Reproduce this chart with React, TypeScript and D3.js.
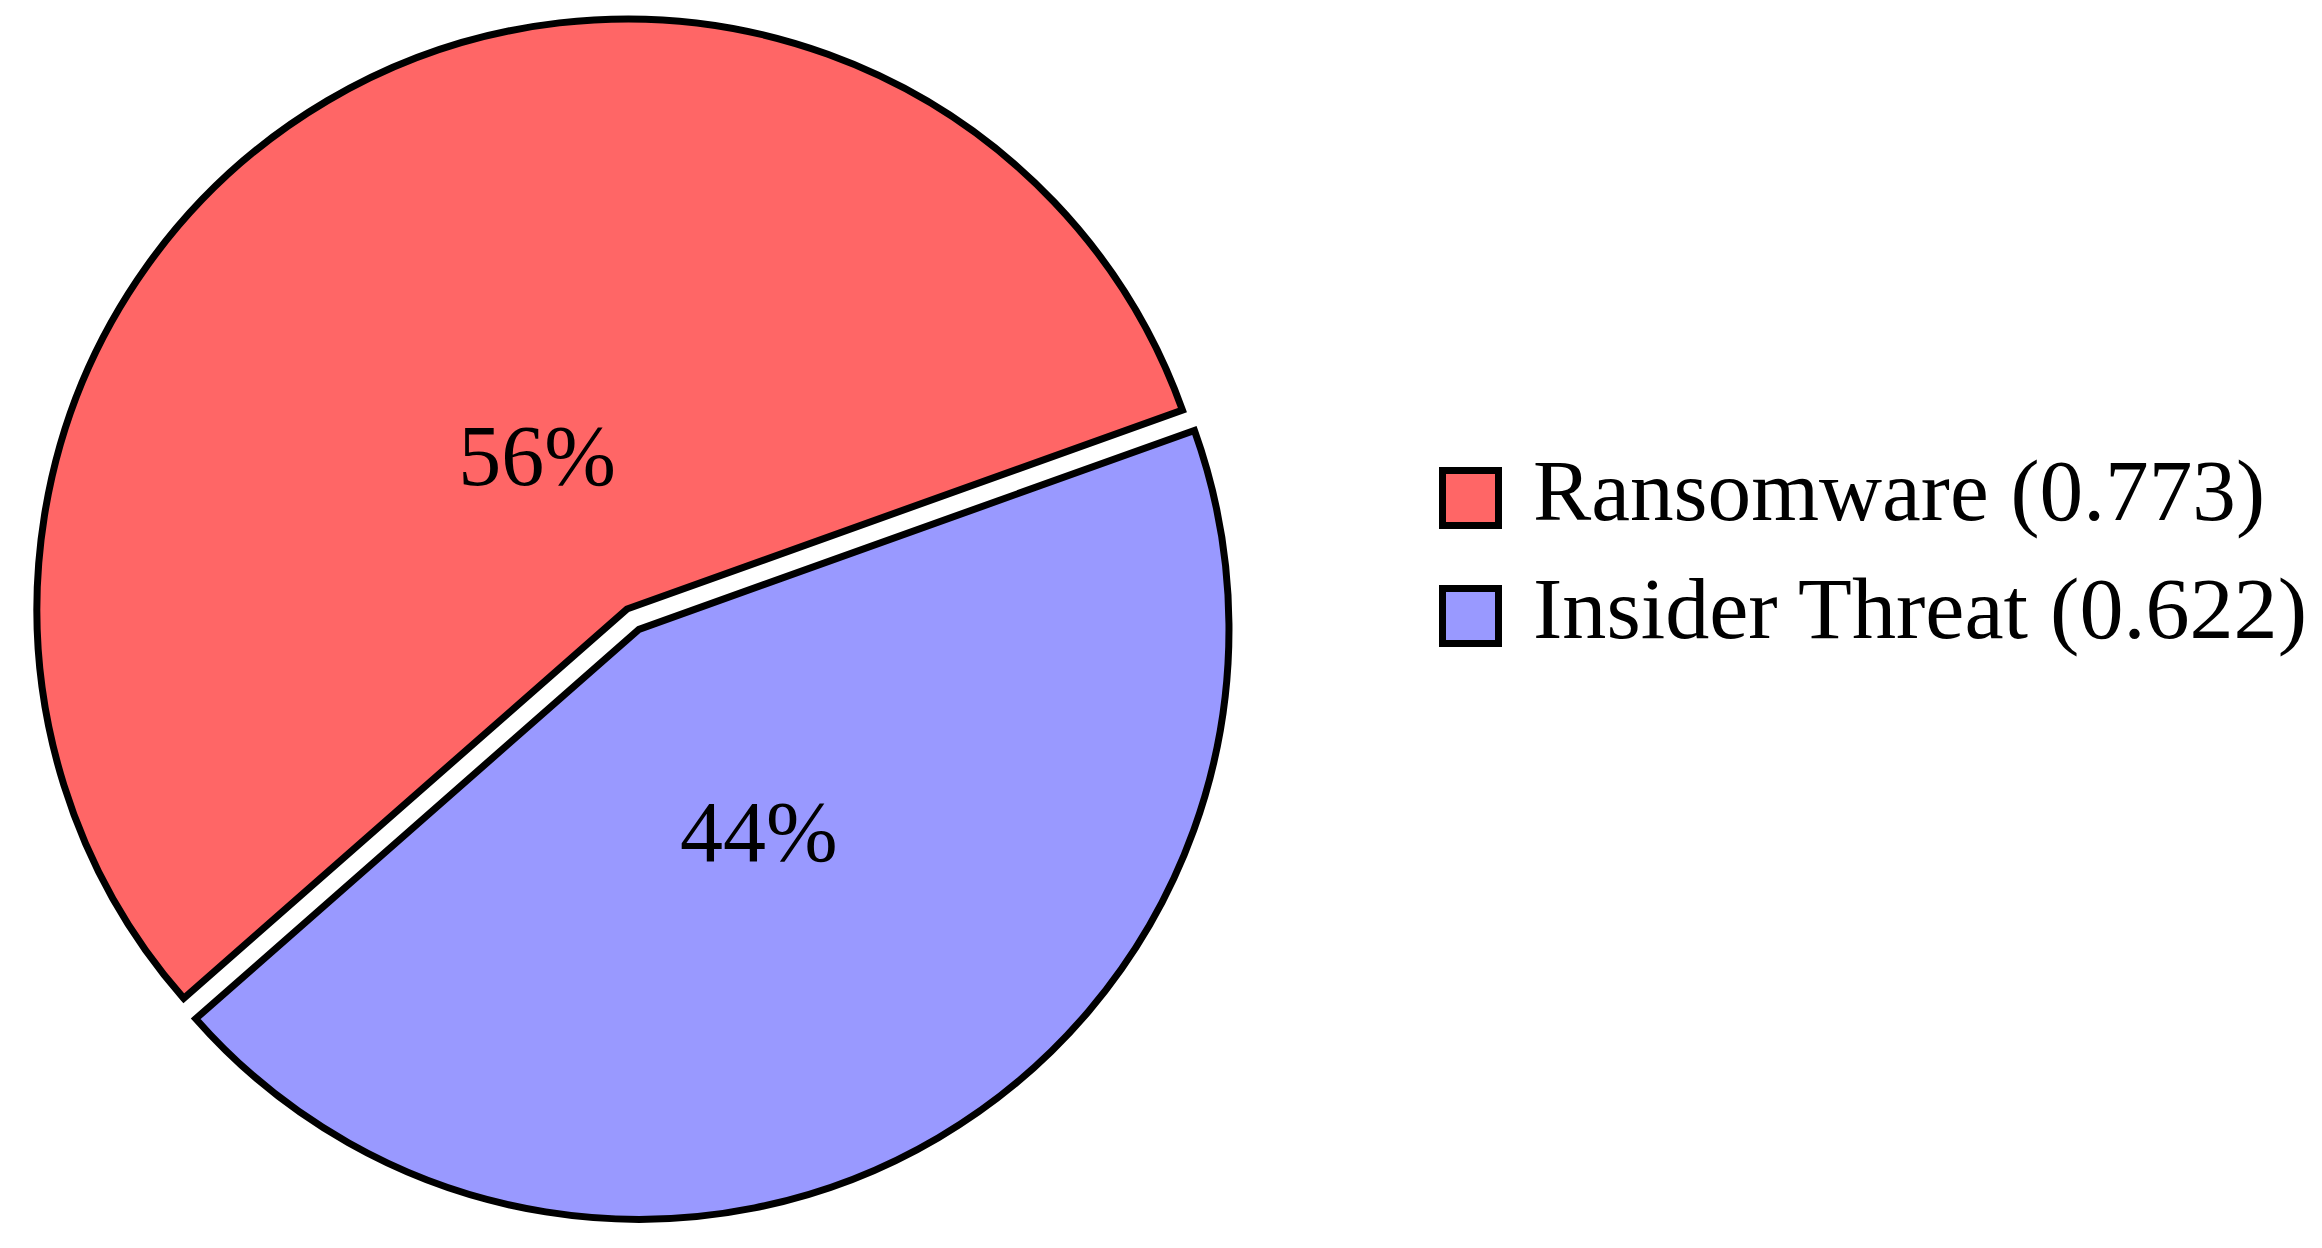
import React from "react";
import * as d3 from "d3";

const categories = ["Ransomware", "Insider Threat"];
const scores = [0.773, 0.622];
const shares = [56, 44];
const colors = ["#FF6666", "#9999FF"];
const explode = [0, 0.04];
const labelRadius = [0.30, 0.40];

const W = 2322;
const H = 1248;
const CX = 627;
const CY = 609;
const R = 590;
const START = (-131.3 * Math.PI) / 180;
const FONT = "'Liberation Serif', 'Times New Roman', serif";

export default function App() {
  const total = d3.sum(shares);
  const pie = d3
    .pie<number>()
    .sort(null)
    .value((d) => d)
    .startAngle(START)
    .endAngle(START + 2 * Math.PI);
  const arcs = pie(shares);
  const arcGen = d3.arc<d3.PieArcDatum<number>>().innerRadius(0).outerRadius(R);

  const legendX = 1442.5;
  const legendY0 = 470.5;
  const legendStep = 118;
  const legendLens = [732, 774];

  return (
    <svg
      width={W}
      height={H}
      style={{ position: "absolute", left: 0, top: 0, display: "block", background: "#fff" }}
    >
      <g transform={`translate(${CX},${CY})`}>
        {arcs.map((a, i) => {
          const mid = (a.startAngle + a.endAngle) / 2;
          const off = explode[i] * R;
          const ox = Math.sin(mid) * off;
          const oy = -Math.cos(mid) * off;
          const lr = labelRadius[i] * R;
          const lx = Math.sin(mid) * lr;
          const ly = -Math.cos(mid) * lr;
          return (
            <g key={i} transform={`translate(${ox},${oy})`}>
              <path
                d={arcGen(a) || ""}
                fill={colors[i]}
                stroke="#000"
                strokeWidth={7}
                strokeLinejoin="miter"
              />
              <text
                x={lx}
                y={ly}
                dy="0.33em"
                textAnchor="middle"
                fontFamily={FONT}
                fontSize={86}
                fill="#000"
              >
                {`${Math.round((shares[i] / total) * 100)}%`}
              </text>
            </g>
          );
        })}
      </g>
      <g>
        {categories.map((c, i) => {
          const y = legendY0 + i * legendStep;
          return (
            <g key={c}>
              <rect
                x={legendX}
                y={y}
                width={56}
                height={55}
                fill={colors[i]}
                stroke="#000"
                strokeWidth={7}
              />
              <text
                x={1533}
                y={y + 49.5}
                fontFamily={FONT}
                fontSize={86}
                fill="#000"
                textLength={legendLens[i]}
                lengthAdjust="spacingAndGlyphs"
              >
                {`${c} (${scores[i].toFixed(3)})`}
              </text>
            </g>
          );
        })}
      </g>
    </svg>
  );
}
